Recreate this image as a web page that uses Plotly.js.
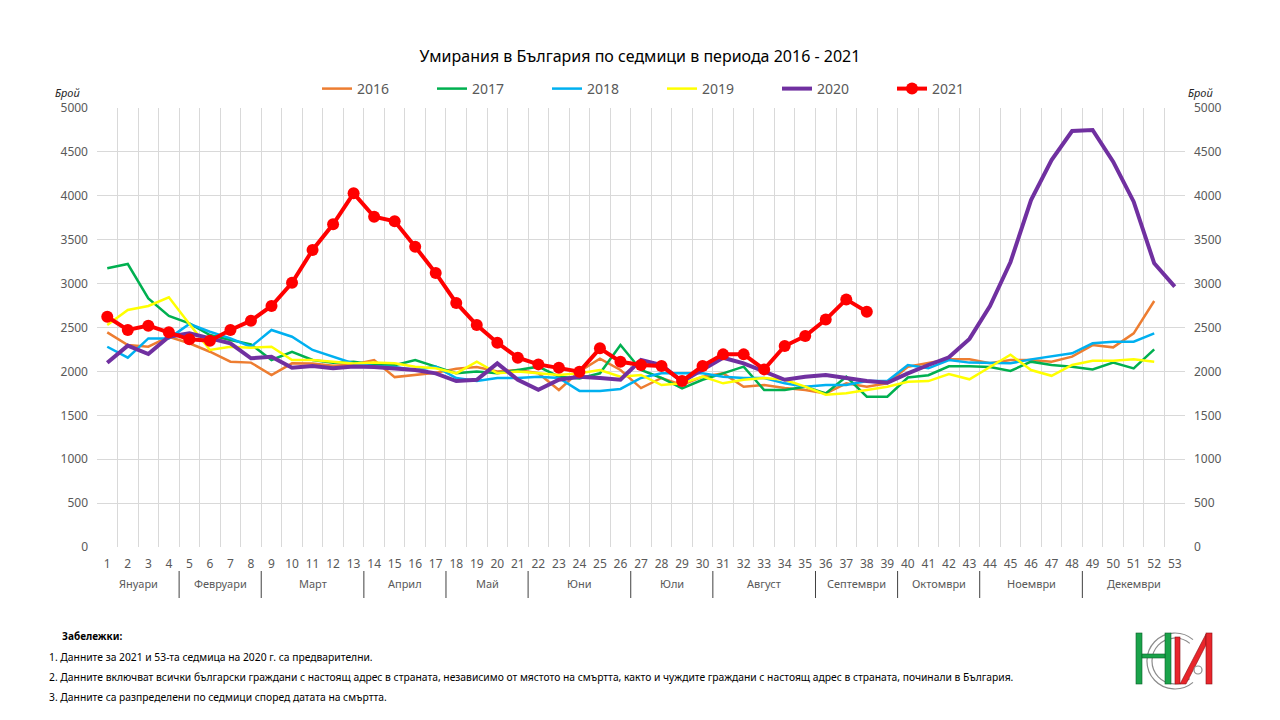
<!DOCTYPE html>
<html>
<head>
<meta charset="utf-8">
<script src="https://cdn.plot.ly/plotly-3.0.1.min.js"></script>
<style>
  html, body { margin: 0; padding: 0; background: #ffffff; }
  #myDiv { width: 1280px; height: 720px; }
</style>
</head>
<body>
<div id="myDiv"></div>
<script>
// weeks on the x axis
var weeks = ['1','2','3','4','5','6','7','8','9','10','11','12','13','14','15','16','17','18','19','20',
             '21','22','23','24','25','26','27','28','29','30','31','32','33','34','35','36','37','38','39','40',
             '41','42','43','44','45','46','47','48','49','50','51','52','53'];

var monthNames = ['Януари','Февруари','Март','Април','Май','Юни','Юли','Август','Септември','Октомври','Ноември','Декември'];
var monthWeeks = [4, 4, 5, 4, 4, 5, 4, 5, 4, 4, 5, 5];

var yearNames = ['2016','2017','2018','2019','2020','2021'];

var d2016 = [2445,2300,2281,2395,2320,2224,2110,2100,1959,2092,2090,2065,2080,2130,1935,1957,1985,2030,2050,2000,
             2016,1980,1788,2000,2145,2016,1810,1925,1845,1940,1978,1826,1845,1810,1788,1750,1864,1826,1864,2054,
             2092,2137,2137,2092,2130,2130,2111,2168,2300,2274,2433,2802];
var d2017 = [3174,3223,2832,2631,2547,2414,2357,2308,2130,2224,2130,2099,2110,2080,2070,2130,2054,1978,2000,1980,
             2016,2054,1940,1920,1978,2300,2016,1925,1807,1905,1978,2054,1788,1788,1826,1750,1940,1712,1712,1930,
             1957,2058,2058,2050,2005,2111,2073,2054,2023,2100,2035,2251];
var d2018 = [2281,2156,2376,2376,2540,2452,2376,2281,2472,2395,2244,2167,2090,2060,2050,2016,2054,1925,1890,1925,
             1925,1940,1925,1778,1778,1800,1925,1978,1978,1978,1940,1925,1925,1864,1826,1845,1845,1890,1890,2073,
             2035,2130,2100,2092,2092,2137,2168,2206,2320,2338,2338,2433];
var d2019 = [2528,2699,2745,2844,2540,2244,2281,2270,2280,2130,2130,2110,2090,2100,2092,2054,2035,1978,2111,1978,
             2000,1978,1960,1978,2016,1940,1960,1845,1864,1940,1864,1905,1925,1905,1826,1735,1750,1788,1826,1883,
             1890,1970,1910,2050,2190,2016,1950,2073,2122,2122,2137,2111];
var d2020 = [2099,2293,2198,2395,2433,2376,2320,2149,2167,2042,2060,2035,2055,2050,2035,2016,1978,1890,1905,2092,
             1905,1790,1905,1940,1925,1905,2130,2073,1883,2016,2156,2092,2000,1905,1940,1960,1925,1890,1870,1978,
             2073,2160,2370,2745,3246,3952,4408,4738,4750,4389,3933,3231,2965];
var d2021 = [2623,2472,2521,2445,2365,2350,2472,2578,2745,3010,3383,3675,4028,3762,3710,3420,3120,2780,2528,2327,
             2156,2080,2042,1997,2263,2110,2073,2061,1890,2061,2194,2194,2023,2289,2402,2590,2820,2680];

var notes = [
  '1. Данните за 2021 и 53-та седмица на 2020 г. са предварителни.',
  '2. Данните включват всички български граждани с настоящ адрес в страната, независимо от мястото на смъртта, както и чуждите граждани с настоящ адрес в страната, починали в България.',
  '3. Данните са разпределени по седмици според датата на смъртта.'
];

// plot frame in pixels
var PLOT_L = 97, PLOT_R = 1185, PLOT_T = 108, PLOT_B = 547;
var PLOT_W = PLOT_R - PLOT_L, PLOT_H = PLOT_B - PLOT_T;
function px(x) { return (x - PLOT_L) / PLOT_W; }
function py(y) { return (PLOT_B - y) / PLOT_H; }

var FONT = '"Noto Sans", "Open Sans", sans-serif';
var GREY = '#595959';

function yearTrace(i, vals, color, width) {
  return { x: weeks.slice(0, vals.length), y: vals, name: yearNames[i],
           type: 'scatter', mode: 'lines',
           line: { color: color, width: width } };
}

var data = [
  yearTrace(0, d2016, '#ED7D31', 2.5),
  yearTrace(1, d2017, '#00B050', 2.5),
  yearTrace(2, d2018, '#00B0F0', 2.5),
  yearTrace(3, d2019, '#FFFF00', 2.5),
  yearTrace(4, d2020, '#7030A0', 4),
  { x: weeks.slice(0, d2021.length), y: d2021, name: yearNames[5],
    type: 'scatter', mode: 'lines+markers',
    line: { color: '#FF0000', width: 4 },
    marker: { color: '#FF0000', size: 12 } },
  // dummy trace so the right axis is drawn
  { x: [weeks[0]], y: [0], yaxis: 'y2', showlegend: false, hoverinfo: 'skip',
    mode: 'markers', marker: { opacity: 0 } }
];

// month labels and separators under the week numbers
var shapes = [];
var annotations = [];
var nW = weeks.length;
var start = 0;
for (var m = 0; m < monthNames.length; m++) {
  var end = start + monthWeeks[m];
  annotations.push({ text: monthNames[m], showarrow: false, xref: 'paper', yref: 'paper',
                     x: (start + end) / 2 / nW, y: py(583), xanchor: 'center', yanchor: 'middle',
                     font: { size: 11, color: GREY, family: FONT } });
  if (m < monthNames.length - 1) {
    shapes.push({ type: 'line', xref: 'paper', yref: 'paper',
                  x0: end / nW, x1: end / nW, y0: py(571), y1: py(598),
                  line: { color: '#404040', width: 1 } });
  }
  start = end;
}

annotations.push({ text: '<i>Брой</i>', showarrow: false, xref: 'paper', yref: 'paper',
                   x: px(67), y: py(92), xanchor: 'center', yanchor: 'middle',
                   font: { size: 11, color: '#262626', family: FONT } });
annotations.push({ text: '<i>Брой</i>', showarrow: false, xref: 'paper', yref: 'paper',
                   x: px(1200), y: py(92), xanchor: 'center', yanchor: 'middle',
                   font: { size: 11, color: '#262626', family: FONT } });

annotations.push({ text: '<b>Забележки:</b>', showarrow: false, xref: 'paper', yref: 'paper',
                   x: px(60), xanchor: 'left', y: py(636), yanchor: 'middle',
                   font: { size: 10, color: '#000000', family: FONT } });
var noteY = [657, 677, 697];
for (var n = 0; n < notes.length; n++) {
  annotations.push({ text: notes[n], showarrow: false, xref: 'paper', yref: 'paper',
                     x: px(47), xanchor: 'left', y: py(noteY[n]), yanchor: 'middle',
                     font: { size: 10.3, color: '#000000', family: FONT } });
}

// logo
var logoSvg =
  '<svg xmlns="http://www.w3.org/2000/svg" width="84" height="62" viewBox="0 0 84 62">' +
  '<path d="M60,11.6 A28,28 0 1,0 60,54.4" fill="none" stroke="#8c8c8c" stroke-width="1.2"/>' +
  '<path d="M56.8,15.4 A23,23 0 1,0 56.8,50.6" fill="none" stroke="#8c8c8c" stroke-width="1.2"/>' +
  '<rect x="3" y="5" width="6" height="51" fill="#1aa34a" stroke="#0b5e2a" stroke-width="0.6"/>' +
  '<rect x="32" y="5" width="6" height="51" fill="#1aa34a" stroke="#0b5e2a" stroke-width="0.6"/>' +
  '<rect x="9" y="26" width="23" height="4" fill="#1aa34a" stroke="#0b5e2a" stroke-width="0.6"/>' +
  '<rect x="42" y="9" width="5" height="47" fill="#e8262b" stroke="#8a1014" stroke-width="0.6"/>' +
  '<polygon points="47,56 53,56 73,17 73,6" fill="#e8262b" stroke="#8a1014" stroke-width="0.6"/>' +
  '<rect x="73" y="5" width="6" height="51" fill="#e8262b" stroke="#8a1014" stroke-width="0.6"/>' +
  '<circle cx="65" cy="42" r="4" fill="#ffffff" stroke="#8c8c8c" stroke-width="1.2"/>' +
  '</svg>';

var logo = [{
  source: 'data:image/svg+xml;charset=utf-8,' + encodeURIComponent(logoSvg),
  xref: 'paper', yref: 'paper',
  x: px(1133), y: py(628), sizex: 84 / PLOT_W, sizey: 62 / PLOT_H,
  xanchor: 'left', yanchor: 'top', sizing: 'stretch', layer: 'above'
}];

var layout = {
  width: 1280,
  height: 720,
  paper_bgcolor: '#ffffff',
  plot_bgcolor: '#ffffff',
  font: { family: FONT, color: GREY },
  margin: { l: PLOT_L, r: 1280 - PLOT_R, t: PLOT_T, b: 720 - PLOT_B, pad: 0 },
  title: { text: 'Умирания в България по седмици в периода 2016 - 2021',
           font: { size: 16, color: '#000000', family: FONT },
           x: 0.5, xanchor: 'center', y: 1 - 56 / 720, yanchor: 'middle' },
  showlegend: true,
  legend: { orientation: 'h', x: px(317), xanchor: 'left', y: py(89), yanchor: 'middle',
            entrywidth: 70, entrywidthmode: 'pixels', traceorder: 'normal',
            font: { size: 14, color: GREY, family: FONT } },
  xaxis: {
    type: 'category',
    categoryorder: 'array', categoryarray: weeks,
    range: [-0.5, weeks.length - 0.5],
    tickson: 'boundaries',
    ticks: '',
    tickangle: 0,
    showgrid: true, gridcolor: '#d9d9d9', gridwidth: 1,
    showline: false, zeroline: false,
    ticklabelstandoff: 8,
    tickfont: { size: 12, color: GREY, family: FONT }
  },
  yaxis: {
    range: [0, 5000], dtick: 500, tick0: 0,
    showgrid: true, gridcolor: '#d9d9d9', gridwidth: 1,
    zeroline: false, showline: false, ticks: '',
    ticklabelstandoff: 8,
    tickfont: { size: 12, color: GREY, family: FONT }
  },
  yaxis2: {
    overlaying: 'y', side: 'right',
    range: [0, 5000], dtick: 500, tick0: 0,
    showgrid: false, zeroline: false, showline: false, ticks: '',
    ticklabelstandoff: 8,
    tickfont: { size: 12, color: GREY, family: FONT }
  },
  shapes: shapes,
  annotations: annotations,
  images: logo
};

var config = { displayModeBar: false, responsive: false };

Plotly.newPlot('myDiv', data, layout, config);
</script>
</body>
</html>
